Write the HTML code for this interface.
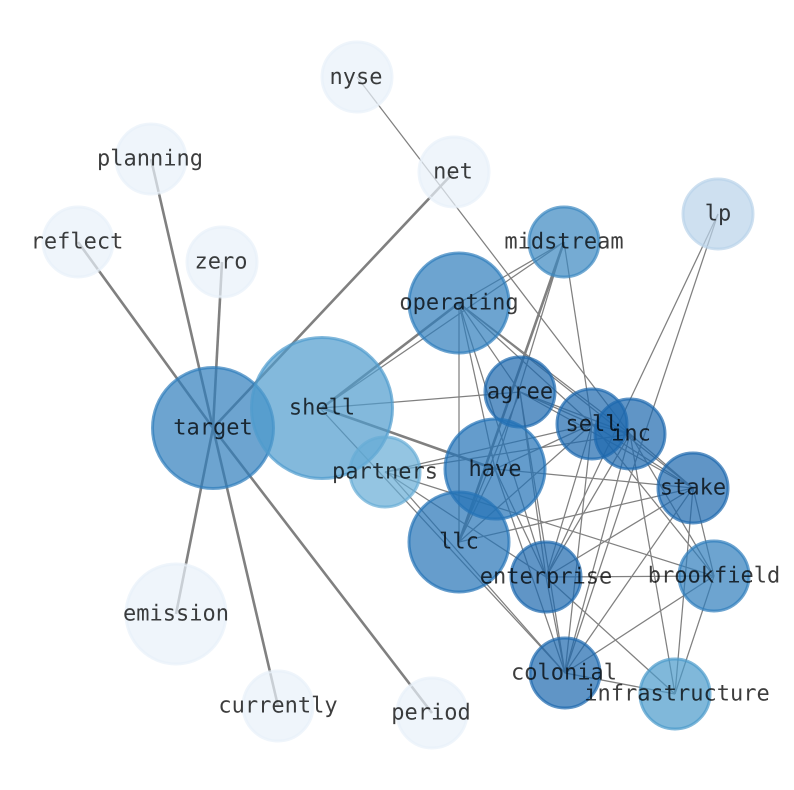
<!DOCTYPE html>
<html><head><meta charset="utf-8"><style>
html,body{margin:0;padding:0;background:#fff}
svg{display:block}
text{font-family:"DejaVu Sans Mono","Liberation Mono",monospace;font-size:22px;text-anchor:middle;fill:#000;fill-opacity:.76;text-rendering:geometricPrecision}
.t line{stroke:#808080;stroke-width:1.25}
.k line{stroke:#808080;stroke-width:2.6}
circle{stroke-width:3;fill-opacity:.7;stroke-opacity:.7}
</style></head><body>
<svg width="794" height="790" viewBox="0 0 794 790" xmlns="http://www.w3.org/2000/svg">
<g class="k">
<line x1="213" y1="428" x2="151" y2="159"/>
<line x1="213" y1="428" x2="222" y2="262"/>
<line x1="213" y1="428" x2="78" y2="242"/>
<line x1="213" y1="428" x2="454" y2="172"/>
<line x1="213" y1="428" x2="176" y2="614"/>
<line x1="213" y1="428" x2="278" y2="706"/>
<line x1="213" y1="428" x2="432" y2="713"/>
<line x1="322" y1="408" x2="459" y2="303"/>
<line x1="322" y1="408" x2="495" y2="469"/>
<line x1="459" y1="542" x2="564" y2="242"/>
</g>
<g class="t">
<line x1="357" y1="77" x2="630" y2="434"/>
<line x1="718" y1="214" x2="546" y2="577"/>
<line x1="718" y1="214" x2="565" y2="673"/>
<line x1="322" y1="408" x2="564" y2="242"/>
<line x1="322" y1="408" x2="520" y2="392"/>
<line x1="320" y1="408" x2="565" y2="673"/>
<line x1="459" y1="303" x2="564" y2="242"/>
<line x1="459" y1="303" x2="520" y2="392"/>
<line x1="459" y1="303" x2="592" y2="424"/>
<line x1="459" y1="303" x2="630" y2="434"/>
<line x1="459" y1="303" x2="693" y2="488"/>
<line x1="459" y1="303" x2="495" y2="469"/>
<line x1="459" y1="303" x2="459" y2="542"/>
<line x1="459" y1="303" x2="546" y2="577"/>
<line x1="564" y1="242" x2="495" y2="469"/>
<line x1="564" y1="242" x2="592" y2="424"/>
<line x1="520" y1="392" x2="592" y2="424"/>
<line x1="520" y1="392" x2="630" y2="434"/>
<line x1="520" y1="392" x2="693" y2="488"/>
<line x1="520" y1="392" x2="459" y2="542"/>
<line x1="520" y1="392" x2="546" y2="577"/>
<line x1="520" y1="392" x2="565" y2="673"/>
<line x1="592" y1="424" x2="630" y2="434"/>
<line x1="592" y1="424" x2="495" y2="469"/>
<line x1="592" y1="424" x2="459" y2="542"/>
<line x1="592" y1="424" x2="385" y2="472"/>
<line x1="592" y1="424" x2="546" y2="577"/>
<line x1="592" y1="424" x2="565" y2="673"/>
<line x1="592" y1="424" x2="693" y2="488"/>
<line x1="592" y1="424" x2="714" y2="576"/>
<line x1="630" y1="434" x2="693" y2="488"/>
<line x1="630" y1="434" x2="714" y2="576"/>
<line x1="630" y1="434" x2="675" y2="694"/>
<line x1="630" y1="434" x2="546" y2="577"/>
<line x1="630" y1="434" x2="565" y2="673"/>
<line x1="630" y1="434" x2="385" y2="472"/>
<line x1="495" y1="469" x2="693" y2="488"/>
<line x1="495" y1="469" x2="546" y2="577"/>
<line x1="495" y1="469" x2="565" y2="673"/>
<line x1="495" y1="469" x2="459" y2="542"/>
<line x1="385" y1="472" x2="546" y2="577"/>
<line x1="388" y1="472" x2="565" y2="673"/>
<line x1="385" y1="472" x2="714" y2="576"/>
<line x1="459" y1="542" x2="693" y2="488"/>
<line x1="693" y1="488" x2="546" y2="577"/>
<line x1="693" y1="488" x2="565" y2="673"/>
<line x1="693" y1="488" x2="714" y2="576"/>
<line x1="693" y1="488" x2="675" y2="694"/>
<line x1="546" y1="577" x2="714" y2="576"/>
<line x1="546" y1="577" x2="565" y2="673"/>
<line x1="546" y1="577" x2="675" y2="694"/>
<line x1="714" y1="576" x2="565" y2="673"/>
<line x1="714" y1="576" x2="675" y2="694"/>
<line x1="565" y1="673" x2="675" y2="694"/>
</g>
<g>
<circle cx="357" cy="77" r="35" fill="#e8f1fa" stroke="#e8f1fa"/>
<circle cx="151" cy="159" r="35" fill="#e8f1fa" stroke="#e8f1fa"/>
<circle cx="454" cy="172" r="35" fill="#e8f1fa" stroke="#e8f1fa"/>
<circle cx="78" cy="242" r="35" fill="#e8f1fa" stroke="#e8f1fa"/>
<circle cx="222" cy="262" r="35" fill="#e8f1fa" stroke="#e8f1fa"/>
<circle cx="176" cy="614" r="50" fill="#e8f1fa" stroke="#e8f1fa"/>
<circle cx="278" cy="706" r="35" fill="#e8f1fa" stroke="#e8f1fa"/>
<circle cx="432" cy="713" r="35" fill="#e8f1fa" stroke="#e8f1fa"/>
<circle cx="718" cy="214" r="35" fill="#b9d3e9" stroke="#b9d3e9"/>
<circle cx="213" cy="428" r="60.5" fill="#2f7ebc" stroke="#2f7ebc"/>
<circle cx="322" cy="408" r="70.5" fill="#4f9bcd" stroke="#4f9bcd"/>
<circle cx="459" cy="303" r="50" fill="#2f7ebc" stroke="#2f7ebc"/>
<circle cx="564" cy="242" r="35" fill="#3a88c1" stroke="#3a88c1"/>
<circle cx="520" cy="392" r="35" fill="#1c68ae" stroke="#1c68ae"/>
<circle cx="592" cy="424" r="35" fill="#1c68ae" stroke="#1c68ae"/>
<circle cx="630" cy="434" r="35" fill="#1c68ae" stroke="#1c68ae"/>
<circle cx="495" cy="469" r="50" fill="#2272b6" stroke="#2272b6"/>
<circle cx="385" cy="472" r="35" fill="#66acd5" stroke="#66acd5"/>
<circle cx="459" cy="542" r="50" fill="#2574b7" stroke="#2574b7"/>
<circle cx="546" cy="577" r="35" fill="#1c68ae" stroke="#1c68ae"/>
<circle cx="693" cy="488" r="35" fill="#1c68ae" stroke="#1c68ae"/>
<circle cx="714" cy="576" r="35" fill="#2f7ebc" stroke="#2f7ebc"/>
<circle cx="565" cy="673" r="35" fill="#1c68ae" stroke="#1c68ae"/>
<circle cx="675" cy="694" r="35" fill="#4a9acb" stroke="#4a9acb"/>
</g>
<g>
<text x="356" y="84">nyse</text>
<text x="150" y="165.5">planning</text>
<text x="453" y="178.5">net</text>
<text x="77" y="248.5">reflect</text>
<text x="221" y="268.5">zero</text>
<text x="718" y="220.5">lp</text>
<text x="564" y="248.5">midstream</text>
<text x="459" y="309.5">operating</text>
<text x="520" y="398.5">agree</text>
<text x="322" y="414.5">shell</text>
<text x="592" y="431">sell</text>
<text x="213" y="434.5">target</text>
<text x="631" y="440.5">inc</text>
<text x="495" y="476">have</text>
<text x="385" y="478.5">partners</text>
<text x="693" y="494.5">stake</text>
<text x="459" y="548.5">llc</text>
<text x="546" y="583.5">enterprise</text>
<text x="714" y="582.5">brookfield</text>
<text x="176" y="620.5">emission</text>
<text x="564" y="679.5">colonial</text>
<text x="677" y="700.5">infrastructure</text>
<text x="278" y="712.5">currently</text>
<text x="431" y="719.5">period</text>
</g>
</svg>
</body></html>
